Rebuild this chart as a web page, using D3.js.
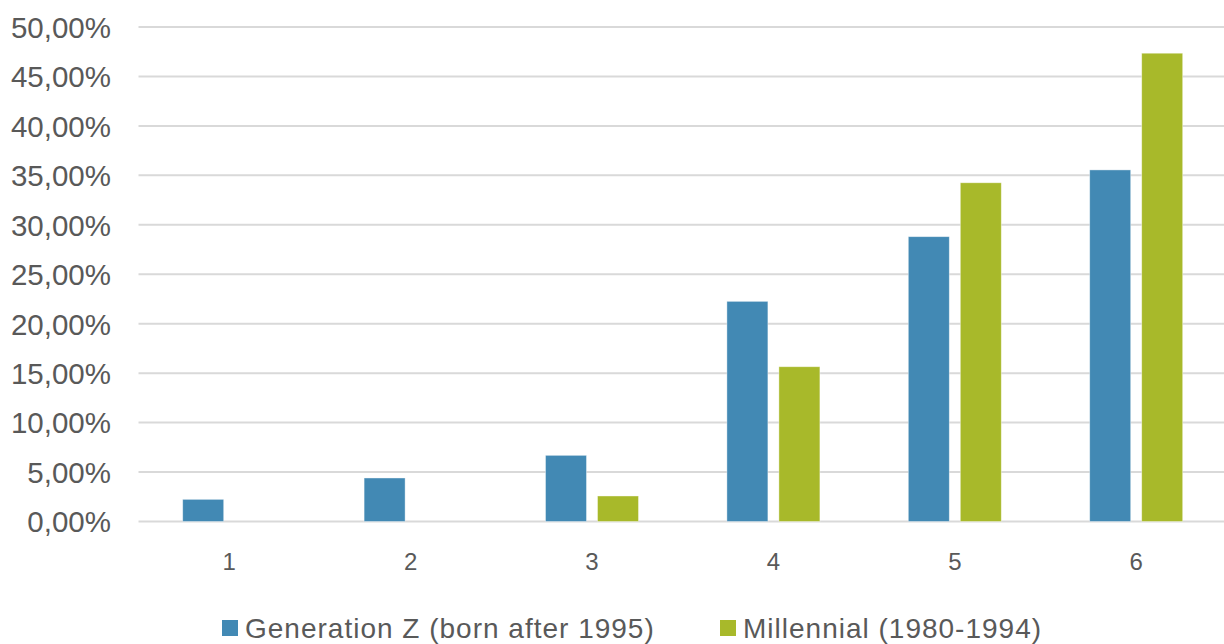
<!DOCTYPE html>
<html>
<head>
<meta charset="utf-8">
<script src="https://cdn.jsdelivr.net/npm/d3@7"></script>
<style>
  html, body { margin: 0; padding: 0; background: #fff; }
  svg { display: block; font-family: "Liberation Sans", Arial, sans-serif; }
</style>
</head>
<body>
<svg id="chart" width="1224" height="644"></svg>
<script>
// Share of respondents per rating (1–6), by generation
const categories = ["1", "2", "3", "4", "5", "6"];
const seriesNames = ["Generation Z (born after 1995)", "Millennial (1980-1994)"];
const genZValues = [0.0224, 0.0440, 0.0669, 0.2226, 0.2880, 0.3555];
const millennialValues = [0, 0, 0.0258, 0.1565, 0.3425, 0.4735];
const yTicks = [0, 0.05, 0.10, 0.15, 0.20, 0.25, 0.30, 0.35, 0.40, 0.45, 0.50];
const seriesColors = ["#4289B4", "#A8B92A"];

const svg = d3.select("#chart");
const W = 1224, H = 644;

const locale = d3.formatLocale({ decimal: ",", thousands: ".", grouping: [3], currency: ["", " €"] });
const pct = locale.format(".2%");

const plotLeft = 138.5, step = 181.4;
const x0 = d3.scaleBand()
  .domain(categories)
  .range([plotLeft, plotLeft + step * categories.length])
  .paddingInner(0).paddingOuter(0);

// two bars of ~41px with an 11px gap, centred in each band
const x1 = d3.scaleBand()
  .domain(seriesNames)
  .range([0, x0.bandwidth()])
  .paddingInner(11 / 52)
  .paddingOuter((x0.bandwidth() / 52 - 2 + 11 / 52) / 2);

const y = d3.scaleLinear().domain([0, 0.5]).range([521.5, 27]);

// gridlines
svg.append("g")
  .selectAll("line")
  .data(yTicks)
  .join("line")
  .attr("x1", plotLeft)
  .attr("x2", W)
  .attr("y1", d => y(d))
  .attr("y2", d => y(d))
  .attr("stroke", "#d9d9d9")
  .attr("stroke-width", 2);

// y axis labels
const yAxis = d3.axisLeft(y).tickValues(yTicks).tickFormat(pct).tickSize(0).tickPadding(0);
const gy = svg.append("g").attr("transform", "translate(111,0)").call(yAxis);
gy.select(".domain").remove();
gy.selectAll("text")
  .attr("fill", "#595959")
  .style("font-size", "29.5px")
  .style("font-family", "'Liberation Sans', Arial, sans-serif")
  .attr("dy", "0.35em");

// x axis labels
const xAxis = d3.axisBottom(x0).tickSize(0).tickPadding(0);
const gx = svg.append("g").attr("transform", "translate(0,553)").call(xAxis);
gx.select(".domain").remove();
gx.selectAll("text")
  .attr("fill", "#595959")
  .style("font-size", "24px")
  .style("font-family", "'Liberation Sans', Arial, sans-serif")
  .attr("dy", "0.71em");

// bars
const rows = categories.map((c, i) => ({ cat: c, values: [genZValues[i], millennialValues[i]] }));
svg.append("g")
  .selectAll("g")
  .data(rows)
  .join("g")
  .attr("transform", d => `translate(${x0(d.cat)},0)`)
  .selectAll("rect")
  .data(d => d.values.map((v, j) => ({ name: seriesNames[j], value: v, color: seriesColors[j] })).filter(d => d.value > 0))
  .join("rect")
  .attr("x", d => x1(d.name))
  .attr("width", x1.bandwidth())
  .attr("y", d => y(d.value))
  .attr("height", d => y(0) - y(d.value))
  .attr("fill", d => d.color)
  .attr("stroke", "#ffffff")
  .attr("stroke-opacity", 0.5)
  .attr("stroke-width", 0.8);

// legend
const legendItems = [
  { name: seriesNames[0], color: seriesColors[0], x: 222 },
  { name: seriesNames[1], color: seriesColors[1], x: 720 }
];
const lg = svg.append("g").selectAll("g").data(legendItems).join("g")
  .attr("transform", d => `translate(${d.x},0)`);
lg.append("rect")
  .attr("x", 0).attr("y", 620)
  .attr("width", 16).attr("height", 16)
  .attr("fill", d => d.color);
lg.append("text")
  .attr("x", 23).attr("y", 628)
  .attr("dy", "0.35em")
  .attr("fill", "#595959")
  .style("font-size", "28px")
  .style("letter-spacing", "1px")
  .text(d => d.name);
</script>
</body>
</html>
